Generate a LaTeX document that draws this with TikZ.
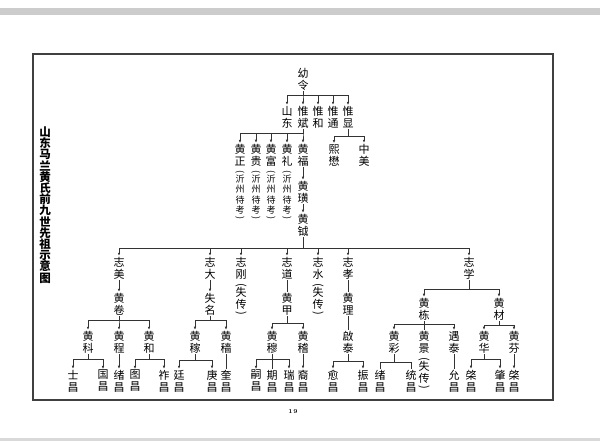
\documentclass[tikz,border=0pt]{standalone}
\usepackage{fontspec}
\usepackage{graphicx}
\newfontfamily\cjk{Noto Sans CJK SC}
\usepackage{tikz}
\usetikzlibrary{arrows.meta,positioning}

\tikzset{
  nm/.style={align=center,inner sep=1pt,font=\cjk\fontsize{11}{12}\selectfont},
  note/.style={align=center,inner sep=0pt,font=\cjk\fontsize{9}{10.5}\selectfont},
  lost/.style={align=center,inner sep=0pt,font=\cjk\fontsize{11}{12}\selectfont},
  link/.style={draw=black!80,line width=0.65pt,-{Latex[length=3pt,width=2.6pt]}},
  plain/.style={draw=black!80,line width=0.65pt},
}
% parent, y of the bar, children
\newcommand{\fork}[3]{%
  \foreach \c in {#3} \draw[link] (#1.south) -- (#1.south |- 0,#2) -| (\c.north);}
% brackets turned for vertical text
\newcommand{\vlp}{\rotatebox[origin=c]{-90}{(}}
\newcommand{\vrp}{\rotatebox[origin=c]{-90}{)}}

\begin{document}
\begin{tikzpicture}[x=1pt,y=-1pt]

			\useasboundingbox (0,0) rectangle (600,441);
			\fill[white] (0,0) rectangle (600,441);
			\fill[gray!40] (0,8) rectangle (600,15);
			\fill[gray!30] (0,438) rectangle (600,441);
			\draw[black!75,line width=1.2pt] (33,54) rectangle (553,400);

			\node[font=\cjk\bfseries\fontsize{11.5}{11.2}\selectfont,align=center,inner sep=0pt] (title) at (45,205) {山\\东\\马\\兰\\黄\\氏\\前\\九\\世\\先\\祖\\示\\意\\图};
			\node[font=\fontsize{6}{7}\selectfont\bfseries] (page) at (293,412) {1\,9};

			% first generations
			\node[nm] (youling) at (303,79) {幼\\令};
			\node[nm] (shandong) at (287,117) {山\\东};
			\node[nm] (weibin) at (303,117) {惟\\斌};
			\node[nm] (weihe) at (318,117) {惟\\和};
			\node[nm] (weitong) at (333,117) {惟\\通};
			\node[nm] (weixian) at (348,117) {惟\\显};
			\fork{youling}{95}{shandong,weibin,weihe,weitong,weixian}

			\node[nm] (hzheng) at (240,155) {黄\\正};
			\node[nm] (hgui) at (256,155) {黄\\贵};
			\node[nm] (hfu) at (271,155) {黄\\富};
			\node[nm] (hli) at (287,155) {黄\\礼};
			\node[nm] (hfu2) at (303,155) {黄\\福};
			\node[nm] (ximao) at (334,155) {熙\\懋};
			\node[nm] (zhongmei) at (364,155) {中\\美};
			\fork{weibin}{133}{hzheng,hgui,hfu,hli,hfu2}
			\fork{weixian}{136}{ximao,zhongmei}

			\node[note,below=3pt of hzheng] (nzheng) {\vlp\\[-3pt]沂\\州\\待\\考\\[-3pt]\vrp};
			\node[note,below=3pt of hgui] (ngui) {\vlp\\[-3pt]沂\\州\\待\\考\\[-3pt]\vrp};
			\node[note,below=3pt of hfu] (nfu) {\vlp\\[-3pt]沂\\州\\待\\考\\[-3pt]\vrp};
			\node[note,below=3pt of hli] (nli) {\vlp\\[-3pt]沂\\州\\待\\考\\[-3pt]\vrp};

			\node[nm] (hhuang) at (303,192) {黄\\璜};
			\node[nm] (hyue) at (303,225) {黄\\钺};
			\draw[link] (hfu2) -- (hhuang);
			\draw[link] (hhuang) -- (hyue);

			% the seven sons
			\node[nm] (zmei) at (119,268) {志\\美};
			\node[nm] (zda) at (210,268) {志\\大};
			\node[nm] (zgang) at (241,268) {志\\刚};
			\node[nm] (zdao) at (287,268) {志\\道};
			\node[nm] (zshui) at (318,268) {志\\水};
			\node[nm] (zxiao) at (348,268) {志\\孝};
			\node[nm] (zxue) at (469,268) {志\\学};
			\fork{hyue}{248}{zmei,zda,zgang,zdao,zshui,zxiao,zxue}

			\node[lost,below=3pt of zgang] (ngang) {\vlp\\[-4pt]失\\传\\[-4pt]\vrp};
			\node[lost,below=3pt of zshui] (nshui) {\vlp\\[-4pt]失\\传\\[-4pt]\vrp};

			\node[nm] (hjuan) at (119,304) {黄\\卷};
			\node[nm] (shiming) at (210,304) {失\\名};
			\node[nm] (hjia) at (287,304) {黄\\甲};
			\node[nm] (hli2) at (348,304) {黄\\理};
			\node[nm] (hdong) at (424,309) {黄\\栋};
			\node[nm] (hcai) at (499,309) {黄\\材};
			\draw[link] (zmei) -- (hjuan);
			\draw[link] (zda) -- (shiming);
			\draw[plain] (zdao) -- (hjia);
			\draw[plain] (zxiao) -- (hli2);
			\fork{zxue}{289}{hdong,hcai}

			\node[nm] (hke) at (88,342) {黄\\科};
			\node[nm] (hcheng) at (119,342) {黄\\程};
			\node[nm] (hhe) at (149,342) {黄\\和};
			\node[nm] (hjia2) at (195,342) {黄\\稼};
			\node[nm] (hse) at (226,342) {黄\\穑};
			\node[nm] (hmu) at (272,342) {黄\\穆};
			\node[nm] (hji) at (303,342) {黄\\稽};
			\node[nm] (qitai) at (348,342) {啟\\泰};
			\node[nm] (hcai2) at (394,342) {黄\\彩};
			\node[nm] (hjing) at (424,342) {黄\\景};
			\node[nm] (yutai) at (454,342) {遇\\泰};
			\node[nm] (hhua) at (484,342) {黄\\华};
			\node[nm] (hfen) at (514,342) {黄\\芬};
			\fork{hjuan}{320}{hke,hcheng,hhe}
			\fork{shiming}{320}{hjia2,hse}
			\fork{hjia}{323}{hmu,hji}
			\draw[plain] (hli2) -- (qitai);
			\fork{hdong}{324}{hcai2,yutai}
			\draw[plain] (hdong) -- (hjing);
			\fork{hcai}{325}{hhua,hfen}

			\node[lost,below=3pt of hjing] (njing) {\vlp\\[-4pt]失\\传\\[-4pt]\vrp};

			% last generation
			\node[nm] (shichang) at (73,381) {士\\昌};
			\node[nm] (guochang) at (103,381) {国\\昌};
			\node[nm] (xuchang) at (119,381) {绪\\昌};
			\node[nm] (tuchang) at (135,381) {图\\昌};
			\node[nm] (zuochang) at (164,381) {祚\\昌};
			\node[nm] (tingchang) at (179,381) {廷\\昌};
			\node[nm] (gengchang) at (212,381) {庚\\昌};
			\node[nm] (kuichang) at (226,381) {奎\\昌};
			\node[nm] (sichang) at (256,381) {嗣\\昌};
			\node[nm] (qichang) at (272,381) {期\\昌};
			\node[nm] (ruichang) at (289,381) {瑞\\昌};
			\node[nm] (yichang) at (303,381) {裔\\昌};
			\node[nm] (yuchang) at (333,381) {愈\\昌};
			\node[nm] (zhenchang) at (363,381) {振\\昌};
			\node[nm] (xuchang2) at (380,381) {绪\\昌};
			\node[nm] (tongchang) at (411,381) {统\\昌};
			\node[nm] (yunchang) at (454,381) {允\\昌};
			\node[nm] (qichang2) at (471,381) {棨\\昌};
			\node[nm] (zhaochang) at (500,381) {肇\\昌};
			\node[nm] (qichang3) at (514,381) {棨\\昌};
			\fork{hke}{359}{shichang,guochang}
			\draw[link] (hcheng) -- (xuchang);
			\fork{hhe}{359}{tuchang,zuochang}
			\fork{hjia2}{360}{tingchang,gengchang}
			\draw[plain] (hse) -- (kuichang);
			\fork{hmu}{359}{sichang,ruichang}
			\draw[plain] (hmu) -- (qichang);
			\draw[link] (hji) -- (yichang);
			\fork{qitai}{361}{yuchang,zhenchang}
			\foreach \c in {xuchang2,tongchang}
				\draw[plain] (hcai2.south) -- (hcai2.south |- 0,362) -| (\c.north);
			\draw[plain] (yutai) -- (yunchang);
			\fork{hhua}{359}{qichang2,zhaochang}
			\draw[link] (hfen) -- (qichang3);

		\end{tikzpicture}
\end{document}
